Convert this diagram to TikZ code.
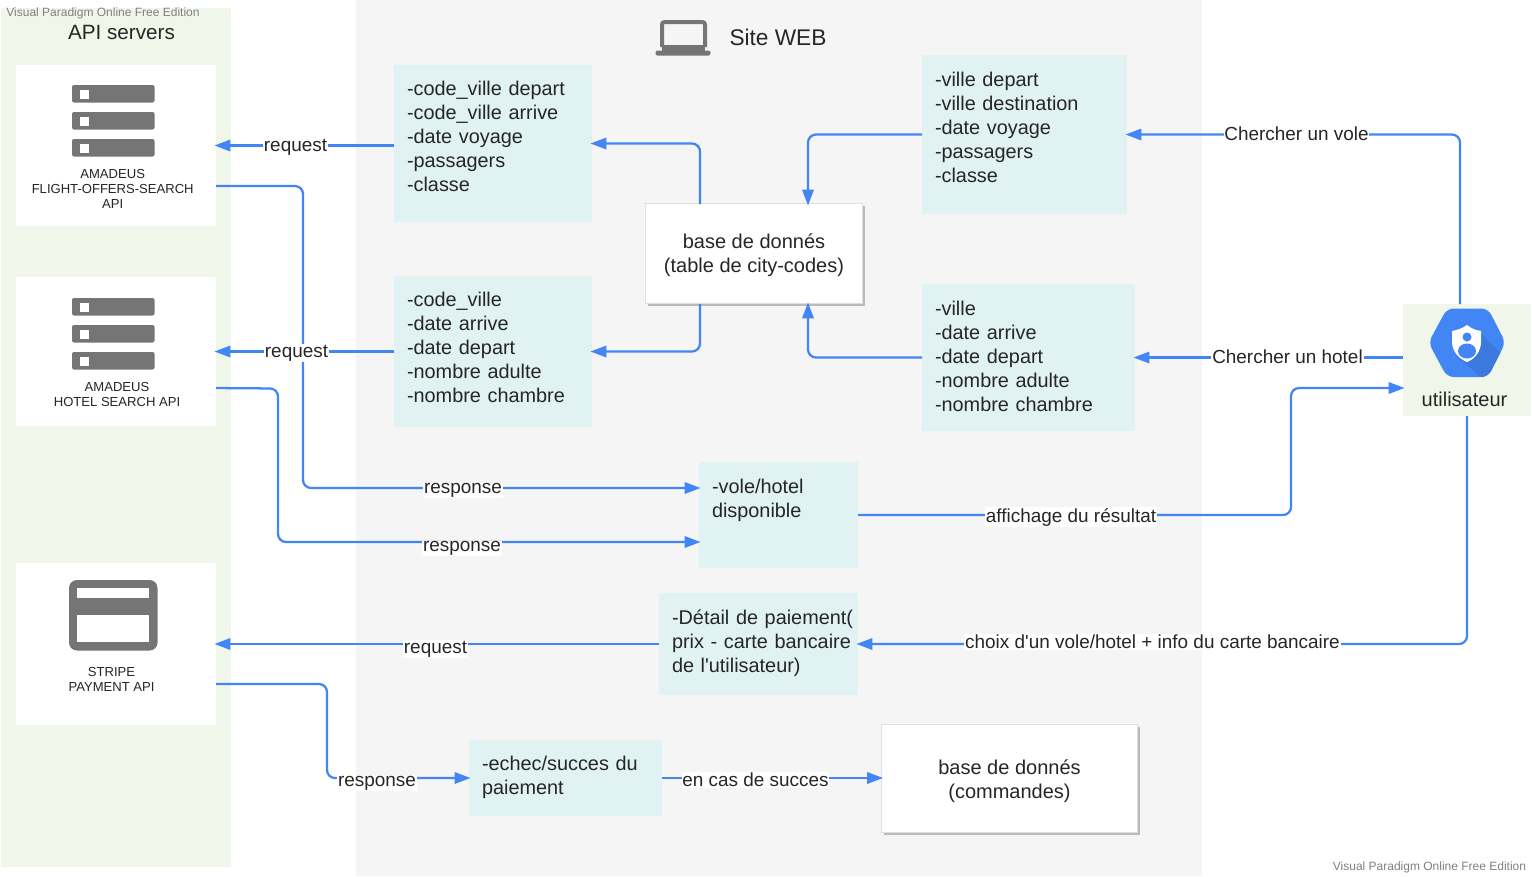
\documentclass[tikz,border=0pt]{standalone}
\usepackage{fontspec}
\setmainfont{Liberation Sans}[Ligatures=TeXOff]
\usepackage{xcolor}
\usetikzlibrary{arrows.meta,shadows}
\definecolor{myblue}{HTML}{4285F4}
\definecolor{mydarkblue}{HTML}{3C79DE}
\definecolor{mygray}{HTML}{757575}
\definecolor{mygreen}{HTML}{F0F6EA}
\definecolor{mysite}{HTML}{F5F5F5}
\definecolor{myteal}{HTML}{E0F2F1}
\colorlet{mytext}{black!85}
\tikzset{
  >=latex,
  size/.style 2 args={minimum width=#1*0.75pt,minimum height=#2*0.75pt,inner sep=0,outer sep=0},
  band/.style={fill=mygreen},
  whitebox/.style={fill=white},
  infobox/.style 2 args={size={#1}{#2},fill=myteal,align=left,text width=#1*0.75pt-19.5pt,text=mytext,
    font=\fontsize{14.9}{18}\selectfont},
  dbbox/.style 2 args={size={#1}{#2},fill=white,draw=black!12,line width=0.6pt,align=center,text=mytext,
    font=\fontsize{15}{18}\selectfont,
    drop shadow={shadow xshift=2.2pt,shadow yshift=-2.2pt,opacity=1,fill=black!27}},
  apitext/.style={align=center,text=mytext,font=\fontsize{9.8}{11.25}\selectfont,inner sep=0},
  title/.style={text=mytext,inner sep=0},
  edgelabel/.style={fill=white,text=mytext,inner sep=0.6pt,font=\fontsize{14.2}{16}\selectfont},
  watermark/.style={text=black!50,inner sep=0,font=\fontsize{9}{11}\selectfont},
  connect/.style={line width=1.7pt,myblue,rounded corners=6pt},
  arrow/.style={connect,-{Triangle[length=12pt,width=8.5pt]},shorten >=-1.2pt}
}
\begin{document}
\begin{tikzpicture}[x=0.75pt,y=-0.75pt]
\useasboundingbox (0,0) rectangle (1532,876);

% The backgrounds
\node[band,size={230}{859}] (apiband) at (116,437.5) {};
\node[fill=mysite,size={846}{876}] (siteband) at (779,438) {};

% The API boxes
\node[whitebox,size={200}{161}] (flight) at (116,145.5) {};
\node[whitebox,size={200}{149}] (hotel) at (116,351.5) {};
\node[whitebox,size={200}{162}] (stripe) at (116,644) {};
\node[band,size={128}{112}] (user) at (1467,360) {};

% The info boxes
\node[infobox={198}{157}] (codeflight) at (493,143.5) {-code\_ville depart\\-code\_ville arrive\\-date voyage\\-passagers\\-classe\\[-6.5pt]\mbox{}};
\node[infobox={198}{151}] (codehotel) at (493,351.5) {-code\_ville\\-date arrive\\-date depart\\-nombre adulte\\-nombre chambre\\[-11.5pt]\mbox{}};
\node[infobox={205}{159}] (villeflight) at (1024.5,134.5) {-ville depart\\-ville destination\\-date voyage\\-passagers\\-classe\\[-6.5pt]\mbox{}};
\node[infobox={213}{147}] (villehotel) at (1028.5,357.5) {-ville\\-date arrive\\-date depart\\-nombre adulte\\-nombre chambre\\[-15.5pt]\mbox{}};
\node[infobox={159}{106}] (resultat) at (778.5,515) {-vole/hotel\\disponible\\[7pt]\mbox{}};
\node[infobox={199}{102}] (paiement) at (758.5,644) {\mbox{-Détail de paiement(}\\\mbox{prix - carte bancaire}\\de l'utilisateur)\\[-13.5pt]\mbox{}};
\node[infobox={193}{76}] (echec) at (565.5,778) {-echec/succes du\\paiement\\[-13.5pt]\mbox{}};

% The databases
\node[dbbox={217}{100}] (citydb) at (754,253.5) {\rule{0pt}{14pt}base de donnés\\(table de city-codes)};
\node[dbbox={256}{108}] (orderdb) at (1009.5,778) {\rule{0pt}{15.5pt}base de donnés\\(commandes)};

% The connections
\draw[arrow] (codeflight.west |- flight.east) -- (flight.east);
\draw[arrow] (codehotel.west) -- (hotel.east);
\draw[arrow] ([yshift=-30.4pt]flight.east) -- (303,186) -- (303,488) -- (resultat.west |- 0,488);
\draw[arrow] ([yshift=-27.4pt]hotel.east) -- (278,388.5) -- (278,542) -- (resultat.west |- 0,542);
\draw[arrow] (paiement.west) -- (stripe.east);
\draw[arrow] ([yshift=-30pt]stripe.east) -- (327,684) -- (327,778) -- (echec.west);
\draw[arrow] (echec.east) -- (orderdb.west);
\draw[arrow] (resultat.east) -- (1291,515) -- (1291,388) -- (user.west |- 0,388);
\draw[arrow] (user.west |- villehotel.east) -- (villehotel.east);
\draw[arrow] (1460,304) -- (1460,134.5) -- (villeflight.east);
\draw[arrow] (1467,416) -- (1467,644) -- (paiement.east);
\draw[arrow] (villeflight.west) -- (808,134.5) -- (808,204);
\draw[arrow] (villehotel.west) -- (808,357.5) -- (808,304);
\draw[arrow] (700,204) -- (700,143.5) -- (codeflight.east);
\draw[arrow] (700,304) -- (700,351.5) -- (codehotel.east);

% The labels
\node[edgelabel] (reqflight) at (295.5,147) {request};
\node[edgelabel] (reqhotel) at (296.5,353) {request};
\node[edgelabel] (respflight) at (463,490.5) {response};
\node[edgelabel] (resphotel) at (462,548.5) {response};
\node[edgelabel] (reqstripe) at (435.5,649) {request};
\node[edgelabel] (respstripe) at (377,783.5) {response};
\node[edgelabel] (success) at (755.5,780) {en cas de succes};
\node[edgelabel] (display) at (1071,517) {affichage du résultat};
\node[edgelabel] (findhotel) at (1287.5,357) {Chercher un hotel};
\node[edgelabel] (findflight) at (1296.5,134) {Chercher un vole};
\node[edgelabel] (choice) at (1152.5,642) {choix d'un vole/hotel + info du carte bancaire};

% The texts
\node[title,font=\fontsize{15.5}{18}\selectfont] (apititle) at (121.5,32) {API servers};
\node[title,font=\fontsize{17}{20}\selectfont] (sitetitle) at (778,37) {Site WEB};
\node[apitext] (flighttxt) at (112.7,189) {AMADEUS\\FLIGHT-OFFERS-SEARCH\\API};
\node[apitext] (hoteltxt) at (117,394.5) {AMADEUS\\HOTEL SEARCH API};
\node[apitext] (stripetxt) at (111.5,679.5) {STRIPE\\PAYMENT API};
\node[title,font=\fontsize{15}{18}\selectfont] (usertxt) at (1464.5,399) {utilisateur};
\node[watermark] (marktop) at (103,13) {Visual Paradigm Online Free Edition};
\node[watermark] (markbottom) at (1429.5,867) {Visual Paradigm Online Free Edition};

% The server icons
\foreach \top in {85,298}{
  \foreach \bar in {0,27,54}{
    \fill[mygray,rounded corners=1.5pt] (72,\top+\bar) rectangle (154.5,\top+\bar+17.5);
    \fill[white] (80,\top+\bar+4.5) rectangle (89,\top+\bar+13.5);
  }
}

% The card icon
\fill[mygray,rounded corners=6pt] (69,580) rectangle (157.5,650.5);
\fill[white] (77,588) rectangle (149,597.5);
\fill[white] (77,614.5) rectangle (149,642);

% The laptop icon
\draw[mygray,line width=3pt,rounded corners=2pt] (662,47) -- (662,22) -- (705,22) -- (705,47);
\fill[mygray] (662,44.5) rectangle (705,51);
\fill[mygray,rounded corners=1.5pt] (655.5,50.5) rectangle (710.5,55.5);

% The user icon
\begin{scope}
\clip[rounded corners=5pt] (1428.5,342.5) -- (1447,308.5) -- (1488,308.5) -- (1505.5,342.5) -- (1488,377) -- (1447,377) -- cycle;
\fill[myblue] (1425,305) rectangle (1510,380);
\fill[mydarkblue] (1475,328) -- (1510,362) -- (1510,380) -- (1485,380) -- (1456,356) -- cycle;
\end{scope}
\fill[white] (1467,325) .. controls (1461,329) and (1457,330) .. (1452,331) -- (1452,342) .. controls (1452,351) and (1459,359) .. (1467,362) .. controls (1475,359) and (1481,351) .. (1481,342) -- (1481,331) .. controls (1476,330) and (1472,329) .. (1467,325) -- cycle;
\fill[myblue] (1467,337) circle (4.5);
\fill[myblue] (1467,351) ellipse (9 and 7.5);
\end{tikzpicture}
\end{document}
